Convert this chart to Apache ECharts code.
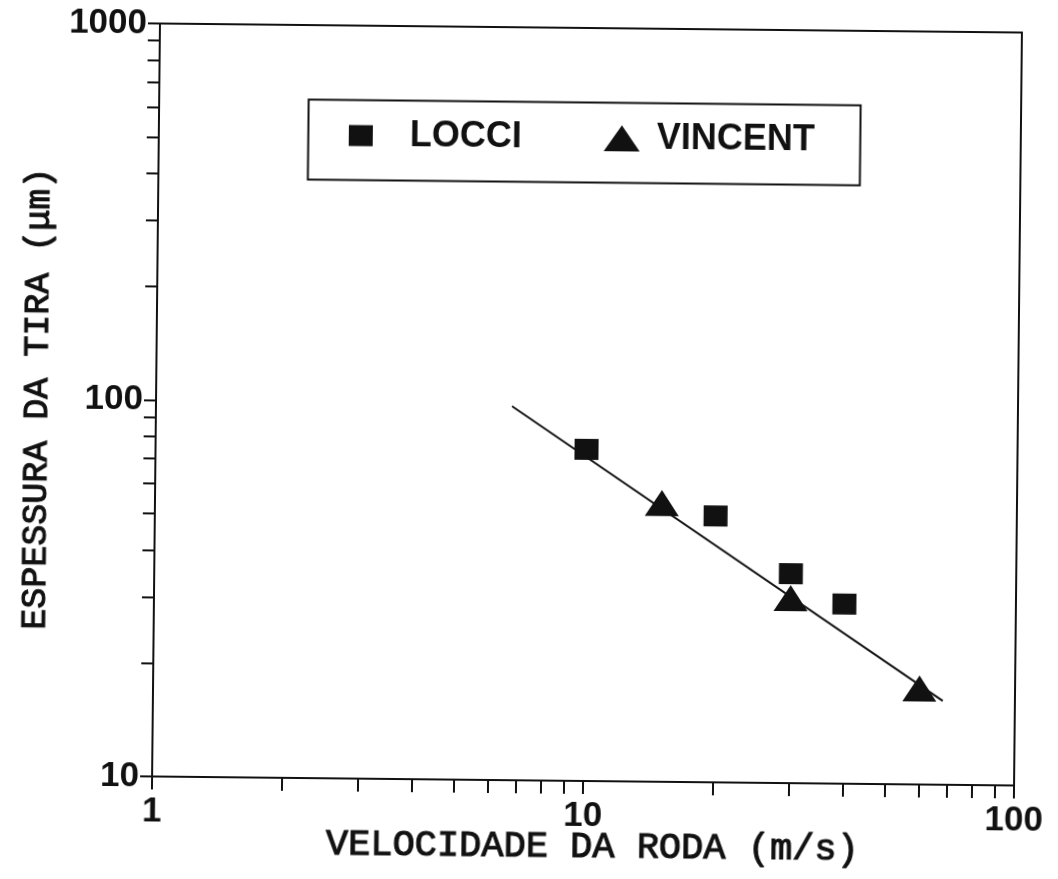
<!DOCTYPE html>
<html>
<head>
<meta charset="utf-8">
<script src="https://cdn.jsdelivr.net/npm/echarts@6/dist/echarts.min.js"></script>
<style>
  html, body { margin: 0; padding: 0; background: #ffffff; }
  #chart {
    width: 1058px; height: 879px;
    transform: rotate(0.6deg);
    transform-origin: 587px 405px;
  }
</style>
</head>
<body>
<div id="chart"></div>
<script>
// Wheel speed (m/s) and ribbon thickness (µm), log–log
const locciSpeed = [10, 20, 30, 40];
const locciThickness = [76, 51, 36, 30];

const vincentSpeed = [15, 30, 60];
const vincentThickness = [55, 31, 18];

// Fitted power-law trend line, end points
const fitSpeed = [6.7, 68];
const fitThickness = [98.5, 16.7];

// Axis ticks and labels
const xTickValues = [1, 2, 3, 4, 5, 6, 7, 8, 9, 10, 20, 30, 40, 50, 60, 70, 80, 90, 100];
const xLabelValues = [1, 10, 100];
const yTickValues = [10, 20, 30, 40, 50, 60, 70, 80, 90, 100, 200, 300, 400, 500, 600, 700, 800, 900, 1000];
const yLabelValues = [10, 100, 1000];

const seriesNames = ['LOCCI', 'VINCENT'];
const xTitle = 'VELOCIDADE DA RODA (m/s)';
const yTitle = 'ESPESSURA DA TIRA (μm)';

const INK = '#111111';
const pairs = (xs, ys) => xs.map((x, i) => [x, ys[i]]);
const plainNumber = (v) => String(Math.round(v));

const chart = echarts.init(document.getElementById('chart'), null, { renderer: 'canvas' });

const tickLabelStyle = {
  color: INK,
  fontFamily: 'Liberation Sans',
  fontWeight: 'bold',
  fontSize: 35,
  formatter: plainNumber
};
const legendText = {
  color: INK,
  fontFamily: 'Liberation Sans',
  fontWeight: 'bold',
  fontSize: 36,
  padding: [0, 0, 0, 32]
};
const titleText = {
  color: INK,
  fontFamily: 'Liberation Mono',
  fontWeight: 'normal',
  textBorderColor: INK,
  textBorderWidth: 1.1
};

chart.setOption({
  backgroundColor: '#ffffff',
  animation: false,
  grid: {
    left: 156, right: 40, top: 28, bottom: 98,
    show: true,
    borderColor: INK,
    borderWidth: 2
  },
  xAxis: {
    type: 'log',
    logBase: 10,
    min: 1,
    max: 100,
    name: xTitle,
    nameLocation: 'middle',
    nameGap: 48,
    nameMoveOverlap: false,
    nameTextStyle: Object.assign({ fontSize: 37, padding: [0, 0, 0, 20] }, titleText),
    axisLine: { show: true, lineStyle: { color: INK, width: 2 } },
    axisTick: {
      show: true, inside: false, length: 13,
      customValues: xTickValues,
      lineStyle: { color: INK, width: 2 }
    },
    axisLabel: Object.assign({ margin: 18, customValues: xLabelValues }, tickLabelStyle),
    splitLine: { show: false },
    minorTick: { show: false }
  },
  yAxis: {
    type: 'log',
    logBase: 10,
    min: 10,
    max: 1000,
    name: yTitle,
    nameLocation: 'middle',
    nameGap: 101,
    nameMoveOverlap: false,
    nameTextStyle: Object.assign({ fontSize: 35 }, titleText),
    axisLine: { show: true, lineStyle: { color: INK, width: 2 } },
    axisTick: {
      show: true, inside: false, length: 12,
      customValues: yTickValues,
      lineStyle: { color: INK, width: 2 }
    },
    axisLabel: Object.assign({ margin: 13, customValues: yLabelValues }, tickLabelStyle),
    splitLine: { show: false },
    minorTick: { show: false }
  },
  legend: [
    {
      data: [seriesNames[0]],
      left: 341, top: 115,
      itemWidth: 24, itemHeight: 21,
      textStyle: legendText,
      selectedMode: false
    },
    {
      data: [seriesNames[1]],
      left: 596, top: 115,
      itemWidth: 36, itemHeight: 26,
      textStyle: Object.assign({}, legendText, { padding: [0, 0, 0, 12] }),
      selectedMode: false
    }
  ],
  graphic: [
    {
      type: 'rect',
      left: 303, top: 100,
      shape: { width: 552, height: 80 },
      style: { fill: 'none', stroke: INK, lineWidth: 2 },
      silent: true
    }
  ],
  series: [
    {
      name: 'fit',
      type: 'line',
      data: pairs(fitSpeed, fitThickness),
      showSymbol: false,
      symbol: 'none',
      lineStyle: { color: INK, width: 2 },
      z: 1
    },
    {
      name: seriesNames[0],
      type: 'scatter',
      symbol: 'rect',
      symbolSize: [24, 21],
      itemStyle: { color: INK, opacity: 1 },
      data: pairs(locciSpeed, locciThickness),
      z: 3
    },
    {
      name: seriesNames[1],
      type: 'scatter',
      symbol: 'triangle',
      symbolSize: [34, 26],
      itemStyle: { color: INK, opacity: 1 },
      data: pairs(vincentSpeed, vincentThickness),
      z: 3
    }
  ]
});
</script>
</body>
</html>
